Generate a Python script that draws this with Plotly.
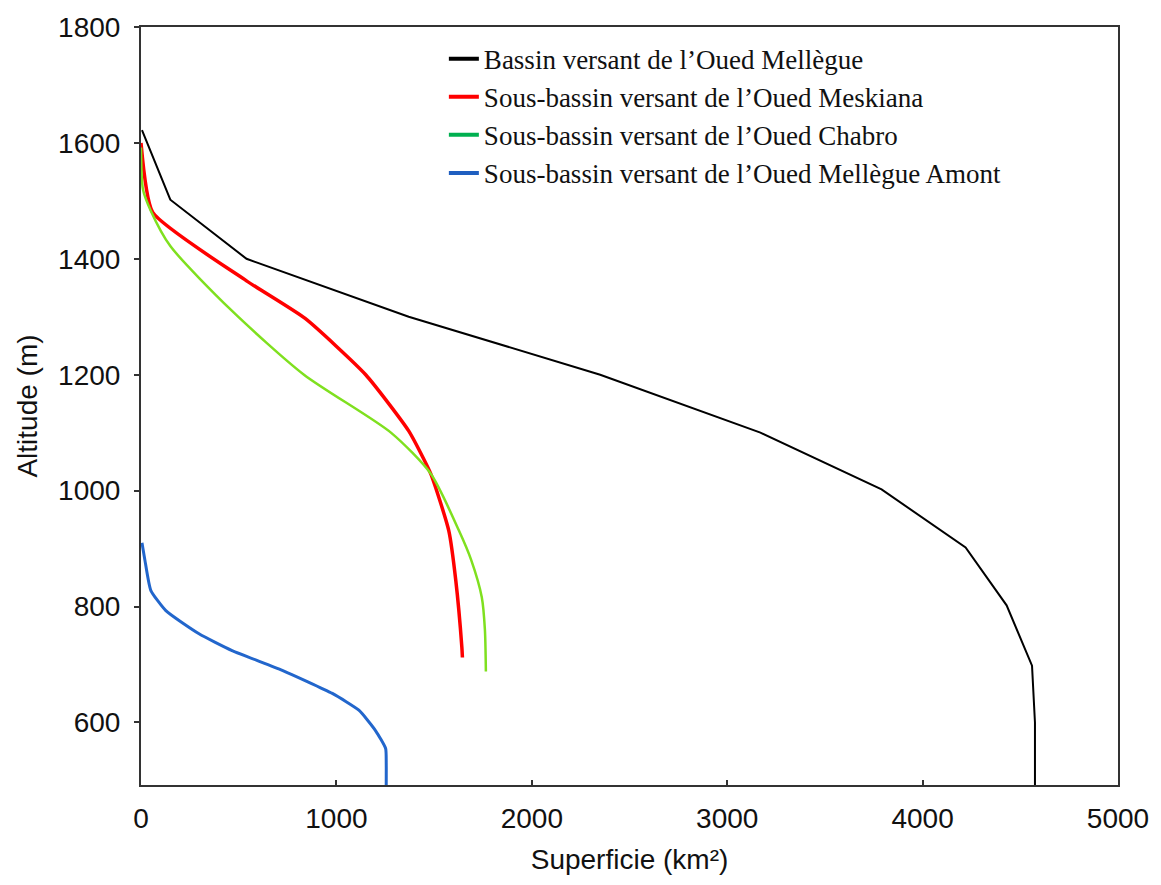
import plotly.graph_objects as go

# Bassin versant de l'Oued Mellègue
mel_x = [5, 150, 540, 1370, 2350, 3170, 3790, 4220, 4430, 4560, 4575, 4575]
mel_y = [1622, 1502, 1400, 1300, 1200, 1100, 1002, 902, 802, 698, 600, 492]

# Sous-bassin versant de l'Oued Meskiana
mes_x = [0, 60, 540, 840, 1150, 1370, 1483, 1575, 1611, 1642, 1645]
mes_y = [1600, 1480, 1362, 1297, 1200, 1103, 1029, 931, 845, 730, 712]

# Sous-bassin versant de l'Oued Chabro
cha_x = [0, 10, 50, 150, 466, 834, 1279, 1483, 1627, 1690, 1744, 1760, 1765]
cha_y = [1592, 1520, 1483, 1422, 1310, 1200, 1100, 1029, 931, 880, 816, 760, 688]

# Sous-bassin versant de l'Oued Mellègue Amont
amo_x = [5, 20, 50, 127, 297, 466, 723, 979, 1115, 1200, 1252, 1255, 1255]
amo_y = [910, 880, 828, 793, 753, 724, 690, 650, 621, 586, 555, 530, 492]

names = ["Bassin versant de l\u2019Oued Mellègue",
         "Sous-bassin versant de l\u2019Oued Meskiana",
         "Sous-bassin versant de l\u2019Oued Chabro",
         "Sous-bassin versant de l\u2019Oued Mellègue Amont"]
line_colors = ["#000000", "#FF0000", "#7FE01F", "#2266CC"]
legend_colors = ["#000000", "#FF0000", "#00B050", "#1F5FC0"]
widths = [2, 3.5, 2.5, 3]
series = [(mel_x, mel_y, "linear", 0.5), (mes_x, mes_y, "spline", 0.5),
          (cha_x, cha_y, "spline", 0.7), (amo_x, amo_y, "spline", 0.5)]

fig = go.Figure()
for (xs, ys, shape, sm), c, w in zip(series, line_colors, widths):
    fig.add_trace(go.Scatter(x=xs, y=ys, mode="lines", showlegend=False,
                             line=dict(color=c, width=w, shape=shape, smoothing=sm)))
for i, (n, c) in enumerate(zip(names, legend_colors)):
    fig.add_trace(go.Scatter(x=[None], y=[None], mode="lines", name=n,
                             legendgroup=f"g{i}",
                             line=dict(color=c, width=4)))

axis_common = dict(showline=True, linecolor="#333333", linewidth=2, mirror=True,
                   showgrid=False, zeroline=False, ticklen=5, tickwidth=2,
                   tickcolor="#333333",
                   tickfont=dict(family="Liberation Sans, Arial", size=28, color="#111111"))

fig.update_layout(
    width=1161, height=885,
    margin=dict(l=141, r=41, t=26, b=100),
    paper_bgcolor="white", plot_bgcolor="white",
    xaxis=dict(range=[0, 5000], tickvals=[0, 1000, 2000, 3000, 4000, 5000],
               ticks="inside", ticklabelstandoff=7,
               title=dict(text="Superficie (km²)", standoff=17,
                          font=dict(family="Liberation Sans, Arial", size=28, color="#111111")),
               **axis_common),
    yaxis=dict(range=[492, 1800], tickvals=[600, 800, 1000, 1200, 1400, 1600, 1800],
               ticks="outside", ticklabelstandoff=8,
               title=dict(text="Altitude (m)", standoff=12,
                          font=dict(family="Liberation Sans, Arial", size=28, color="#111111")),
               **axis_common),
    legend=dict(x=0.31, y=0.99, xanchor="left", yanchor="top",
                bgcolor="rgba(0,0,0,0)", traceorder="grouped", tracegroupgap=0,
                font=dict(family="Liberation Serif, Times New Roman", size=27, color="#111111")),
)

fig.write_html("out.html")
